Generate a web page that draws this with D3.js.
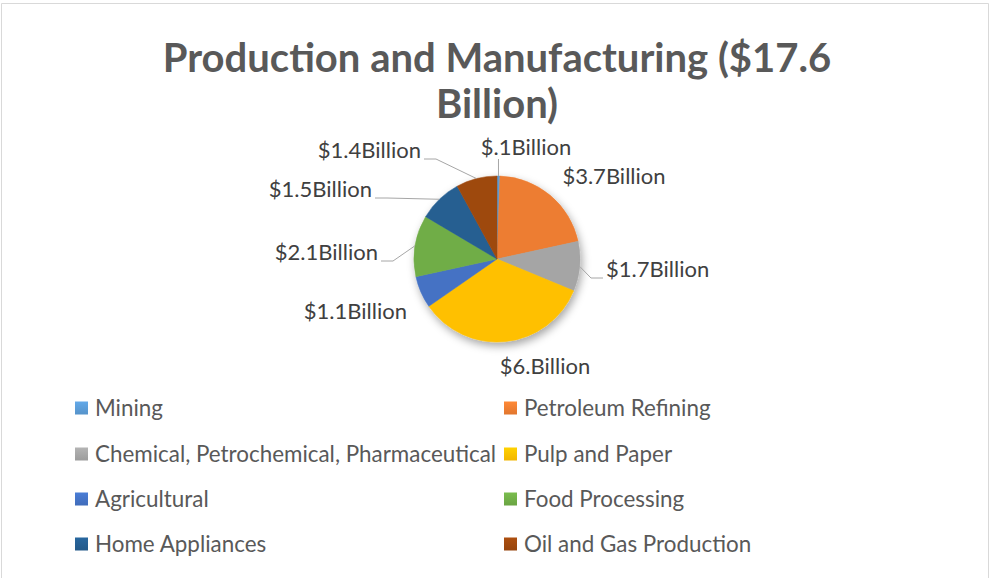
<!DOCTYPE html>
<html>
<head>
<meta charset="utf-8">
<script src="https://cdn.jsdelivr.net/npm/d3@7/dist/d3.min.js"></script>
<style>
  html, body { margin: 0; padding: 0; background: #fff; }
  svg { display: block; }
  text { font-family: Lato, "Open Sans", sans-serif; }
</style>
</head>
<body>
<svg id="chart" width="990" height="578"></svg>
<script>
// Sectors and their spend, in billions of dollars
const categories = [
  "Mining",
  "Petroleum Refining",
  "Chemical, Petrochemical, Pharmaceutical",
  "Pulp and Paper",
  "Agricultural",
  "Food Processing",
  "Home Appliances",
  "Oil and Gas Production"
];
const values = [0.1, 3.7, 1.7, 6.0, 1.1, 2.1, 1.5, 1.4];
const valueLabels = ["$.1Billion", "$3.7Billion", "$1.7Billion", "$6.Billion",
                     "$1.1Billion", "$2.1Billion", "$1.5Billion", "$1.4Billion"];
const titleLines = ["Production and Manufacturing ($17.6", "Billion)"];

const colors = ["#5B9BD5", "#ED7D31", "#A5A5A5", "#FFC000",
                "#4472C4", "#70AD47", "#255E91", "#9E480E"];

// Label placement relative to the pie centre: [dx, dy of baseline, anchor, leader style]
const labelLayout = [
  [ 29, -104, "middle", "vertical"],
  [117,  -75, "middle", "none"],
  [109,   18, "start",  "elbow"],
  [ 48,  115, "middle", "none"],
  [-90,   60, "end",    "none"],
  [-119,   1, "end",    "elbow"],
  [-125, -62, "end",    "elbow"],
  [-76, -101, "end",    "elbow"]
];

const W = 990, H = 578;
const cx = 497, cy = 259, R = 83;

const svg = d3.select("#chart");
const defs = svg.append("defs");

// Soft drop shadow under the pie
const shadow = defs.append("filter").attr("id", "pieShadow")
  .attr("x", "-30%").attr("y", "-30%").attr("width", "160%").attr("height", "160%");
shadow.append("feDropShadow")
  .attr("dx", 2).attr("dy", 4).attr("stdDeviation", 4)
  .attr("flood-color", "#000").attr("flood-opacity", 0.35);

// Gentle vertical shading for each colour
colors.forEach((c, i) => {
  const g = defs.append("linearGradient").attr("id", "grad" + i)
    .attr("x1", 0).attr("y1", 0).attr("x2", 0).attr("y2", 1);
  g.append("stop").attr("offset", "0%").attr("stop-color", d3.color(c).brighter(0.25));
  g.append("stop").attr("offset", "100%").attr("stop-color", d3.color(c).darker(0.15));
});

// Chart frame
svg.append("path")
  .attr("d", `M1.5,${H} V3.5 H988.5 V${H}`)
  .attr("fill", "none").attr("stroke", "#d9d9d9").attr("stroke-width", 1);

// Title
svg.append("text")
  .attr("x", cx).attr("text-anchor", "middle")
  .attr("font-weight", 700).attr("font-size", 40).attr("fill", "#595959")
  .selectAll("tspan").data(titleLines).join("tspan")
  .attr("x", cx).attr("y", (d, i) => 72 + i * 46)
  .text(d => d);

// Pie
const data = categories.map((c, i) => ({ name: c, value: values[i], label: valueLabels[i], idx: i }));
const pie = d3.pie().sort(null).value(d => d.value);
const arcs = pie(data);
const arc = d3.arc().innerRadius(0).outerRadius(R);
const edge = d3.arc().innerRadius(R).outerRadius(R);

const pieG = svg.append("g").attr("transform", `translate(${cx},${cy})`)
  .attr("filter", "url(#pieShadow)");
pieG.selectAll("path").data(arcs).join("path")
  .attr("d", arc)
  .attr("fill", d => colors[d.data.idx])
  .attr("stroke", d => colors[d.data.idx]).attr("stroke-width", 0.5);

// Data labels with leader lines
const labelG = svg.append("g").attr("transform", `translate(${cx},${cy})`);
arcs.forEach((a, i) => {
  const [dx, dy, anchor, leader] = labelLayout[i];
  const t = labelG.append("text")
    .attr("x", dx).attr("y", dy)
    .attr("text-anchor", anchor)
    .attr("font-size", 22).attr("fill", "#404040")
    .text(a.data.label);
  const p0 = edge.centroid(a);
  const box = t.node().getBBox();
  if (leader === "vertical") {
    const top = [p0[0], dy + 4];
    labelG.append("path").attr("d", d3.line()([top, p0]))
      .attr("fill", "none").attr("stroke", "#a6a6a6").attr("stroke-width", 1);
  } else if (leader === "elbow") {
    const attachX = anchor === "end" ? box.x + box.width + 3 : box.x - 3;
    const ly = dy + 1;
    const dir = anchor === "end" ? 1 : -1;
    let elbowX = attachX + dir * 12;
    if ((elbowX - p0[0]) * dir > 0) elbowX = p0[0];
    const pts = [[attachX, ly], [elbowX, ly], p0];
    labelG.append("path").attr("d", d3.line()(pts))
      .attr("fill", "none").attr("stroke", "#a6a6a6").attr("stroke-width", 1);
  }
});

// Legend: two columns, four rows
const legend = svg.append("g");
const colX = [75, 504], rowY = [408, 454, 499, 544];
data.forEach((d, i) => {
  const x = colX[i % 2], y = rowY[Math.floor(i / 2)];
  legend.append("rect").attr("x", x).attr("y", y - 6.5)
    .attr("width", 13).attr("height", 13).attr("fill", `url(#grad${i})`);
  legend.append("text").attr("x", x + 20).attr("y", y + 7.5)
    .attr("font-size", 22.4).attr("fill", "#595959")
    .text(d.name);
});
</script>
</body>
</html>
